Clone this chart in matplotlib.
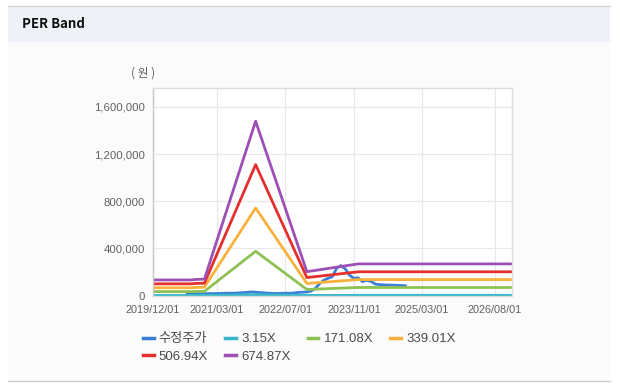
import numpy as np
import pandas as pd
import matplotlib
matplotlib.use("Agg")
import matplotlib.pyplot as plt
import matplotlib.dates as mdates
from matplotlib.patches import Rectangle
from matplotlib.lines import Line2D
from matplotlib.ticker import FuncFormatter

plt.rcParams['font.family'] = ['Liberation Sans', 'Noto Sans CJK KR']

# band dates (EPS change points) and band values per multiple
band_dates = pd.to_datetime(['2019-12-01', '2020-09-01', '2020-10-01', '2020-12-01',
                             '2021-12-01', '2022-12-01', '2023-12-01', '2026-12-01'])
band_315 = [600, 600, 620, 640, 6900, 950, 1250, 1250]
band_17108 = [33000, 33000, 34500, 35000, 375000, 51000, 68000, 68000]
band_33901 = [66000, 66000, 68500, 70000, 742000, 102000, 135000, 135000]
band_50694 = [99000, 99000, 102500, 104000, 1110000, 152000, 201000, 201000]
band_67487 = [132000, 132000, 136000, 139000, 1478000, 202000, 268000, 268000]

# adjusted price, monthly 2020/08 - 2024/11
price_dates = pd.date_range('2020-08-01', '2024-11-01', freq='MS')
price = [14000, 14000, 14000, 15000, 15000, 16000, 16000, 17000, 18000, 20000,
         19000, 20000, 22000, 24000, 27000, 30000, 28000, 25000, 22000, 20000,
         18000, 17000, 18000, 20000, 19000, 22000, 26000, 28000, 30000, 38000,
         62000, 100000, 130000, 146000, 160000, 232000, 254000, 225000, 172000, 146000,
         150000, 118000, 128000, 120000, 97000, 92000, 90000, 88000, 88000, 86000,
         85000, 83000]

series = [
    ('수정주가', price_dates, price, '#3a7fd5'),
    ('3.15X', band_dates, band_315, '#36b6c8'),
    ('171.08X', band_dates, band_17108, '#8dc153'),
    ('339.01X', band_dates, band_33901, '#f7b13d'),
    ('506.94X', band_dates, band_50694, '#e52f2f'),
    ('674.87X', band_dates, band_67487, '#9c4fb4'),
]

x_ticks = pd.to_datetime(['2019-12-01', '2021-03-01', '2022-07-01',
                          '2023-11-01', '2025-03-01', '2026-08-01'])

W, H = 623, 392
fig = plt.figure(figsize=(W / 100, H / 100), dpi=100)
fig.patch.set_facecolor('white')

# panel background and header
fig.patches.append(Rectangle((8 / W, 1 - 381 / H), 602 / W, 339 / H,
                             transform=fig.transFigure, facecolor='#fbfbfb',
                             edgecolor='none', zorder=-5))
fig.patches.append(Rectangle((8 / W, 1 - 42 / H), 602 / W, 36 / H,
                             transform=fig.transFigure, facecolor='#eef2f8',
                             edgecolor='none', zorder=-5))
fig.lines.append(Line2D([8 / W, 610 / W], [1 - 6 / H, 1 - 6 / H],
                        transform=fig.transFigure, color='#d4d4d4', lw=1, zorder=-4))
fig.lines.append(Line2D([8 / W, 610 / W], [1 - 381 / H, 1 - 381 / H],
                        transform=fig.transFigure, color='#cfcfcf', lw=1, zorder=-4))
fig.text(22 / W, 1 - 24 / H, 'PER Band', fontsize=9.5, fontweight='bold',
         family=['Noto Sans CJK KR'], color='#111111', va='center', ha='left')

ax = fig.add_axes([153 / W, 1 - 295.5 / H, 359 / W, 207.5 / H])
ax.set_zorder(2)
ax.set_facecolor('white')

handles = []
for name, d, v, c in series:
    ln, = ax.plot(d, v, color=c, lw=2, label=name, solid_joinstyle='round')
    handles.append(ln)

ax.set_xlim(pd.Timestamp('2019-12-01'), pd.Timestamp('2026-12-01'))
ax.set_ylim(0, 1760000)
ax.set_yticks([0, 400000, 800000, 1200000, 1600000])
ax.yaxis.set_major_formatter(FuncFormatter(lambda v, p: f'{int(v):,}'))
ax.set_xticks(x_ticks)
ax.xaxis.set_major_formatter(mdates.DateFormatter('%Y/%m/%d'))
ax.tick_params(axis='both', length=0, colors='#606060')
ax.tick_params(axis='y', labelsize=8.2, pad=6)
ax.tick_params(axis='x', labelsize=7.8, pad=7)
ax.grid(True, color='#e8e8e8', lw=0.9)
ax.set_axisbelow(True)
for s in ax.spines.values():
    s.set_color('#dcdcdc')
    s.set_linewidth(1)
ax.spines['left'].set_color('#c8c8c8')

fig.text(131 / W, 1 - 73 / H, '( 원 )', fontsize=8.5, color='#606060',
         family=['Noto Sans CJK KR'], va='center', ha='left')

# row-wise legend order for 4 columns
order = [0, 4, 1, 5, 2, 3]
leg = ax.legend([handles[i] for i in order], [series[i][0] for i in order],
                loc='upper left', bbox_to_anchor=(143 / W, 1 - 333 / H),
                bbox_transform=fig.transFigure, ncol=4, frameon=False,
                fontsize=9.5, handlelength=0.8, handletextpad=0.4,
                columnspacing=1.3, labelspacing=0.4, borderpad=0,
                borderaxespad=0)
for t in leg.get_texts():
    t.set_color('#4a4a4a')
for h in leg.legend_handles:
    h.set_linewidth(2.5)

fig.savefig('out.png', dpi=100, facecolor=fig.get_facecolor())
